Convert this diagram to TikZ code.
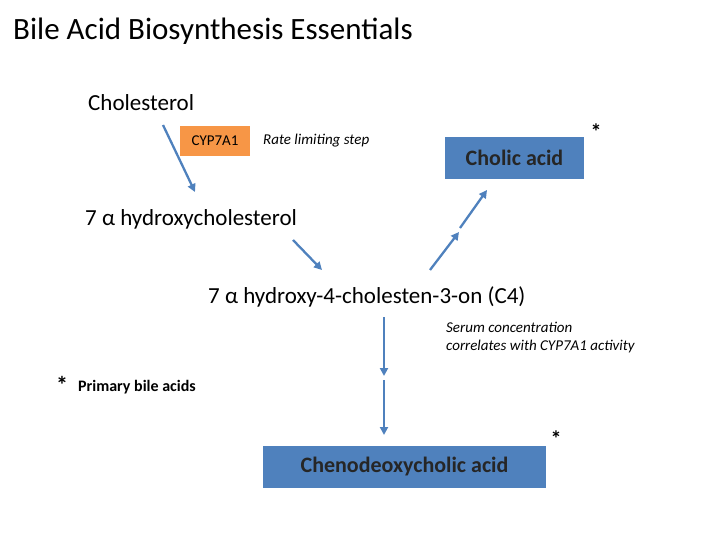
\documentclass[tikz,border=0pt]{standalone}
\usepackage{fontspec}
\setmainfont{Carlito}
\usetikzlibrary{arrows.meta}
\definecolor{ablue}{RGB}{79,129,189}
\definecolor{boxblue}{RGB}{79,129,189}
\definecolor{aorange}{RGB}{247,150,70}
\tikzset{
 arr/.style={draw=ablue,line width=2.3pt,-{Triangle[length=8pt,width=8pt]}},
 plain/.style={inner sep=0pt,anchor=west},
 bluebox/.style={fill=boxblue,font=\fontsize{22}{26}\selectfont\bfseries,text=black!85,inner sep=0pt,minimum height=42pt},
}
\begin{document}
\begin{tikzpicture}[x=1pt,y=-1pt]
\useasboundingbox (0,0) rectangle (720,540);
\node[plain,font=\fontsize{31}{36}\selectfont] (title) at (13,31) {Bile Acid Biosynthesis Essentials};
\node[plain,font=\fontsize{23}{28}\selectfont] (chol) at (88,103) {Cholesterol};
\node[fill=aorange,minimum width=70pt,minimum height=30pt,inner sep=0pt,font=\fontsize{15}{18}\selectfont] (cyp) at (215,141) {CYP7A1};
\node[plain,font=\fontsize{15}{18}\selectfont\itshape] (rate) at (263,141) {Rate limiting step};
\node[bluebox,minimum width=139pt] (cholic) at (514.5,158) {Cholic acid};
\node[font=\fontsize{22}{26}\selectfont\bfseries,inner sep=0pt] (s1) at (596,132) {*};
\node[plain,font=\fontsize{23}{28}\selectfont] (hc) at (85,219) {7 α hydroxycholesterol};
\node[plain,font=\fontsize{23}{28}\selectfont] (c4) at (208,297) {7 α hydroxy-4-cholesten-3-on (C4)};
\node[plain,font=\fontsize{15}{18}\selectfont\itshape,align=left] (serum) at (446,338) {Serum concentration\\correlates with CYP7A1 activity};
\node[font=\fontsize{24}{28}\selectfont\bfseries,inner sep=0pt] (s2) at (62,385) {*};
\node[plain,font=\fontsize{16}{19}\selectfont\bfseries] (prim) at (78,387) {Primary bile acids};
\node[bluebox,minimum width=283pt] (cdca) at (404.5,466.5) {Chenodeoxycholic acid};
\node[font=\fontsize{22}{26}\selectfont\bfseries,inner sep=0pt] (s3) at (556,439) {*};
\coordinate (a1s) at (163,125); \coordinate (a1e) at (195,192);
\coordinate (a2s) at (293,240); \coordinate (a2e) at (322,270);
\coordinate (a3s) at (430,270); \coordinate (a3e) at (459,232);
\coordinate (a4s) at (460,228); \coordinate (a4e) at (487,190);
\coordinate (a5s) at (384,317); \coordinate (a5e) at (384,376);
\coordinate (a6s) at (384,380); \coordinate (a6e) at (384,435);
\draw[arr] (a1s) -- (a1e);
\draw[arr] (a2s) -- (a2e);
\draw[arr] (a3s) -- (a3e);
\draw[arr] (a4s) -- (a4e);
\draw[arr] (a5s) -- (a5e);
\draw[arr] (a6s) -- (a6e);
\end{tikzpicture}
\end{document}
